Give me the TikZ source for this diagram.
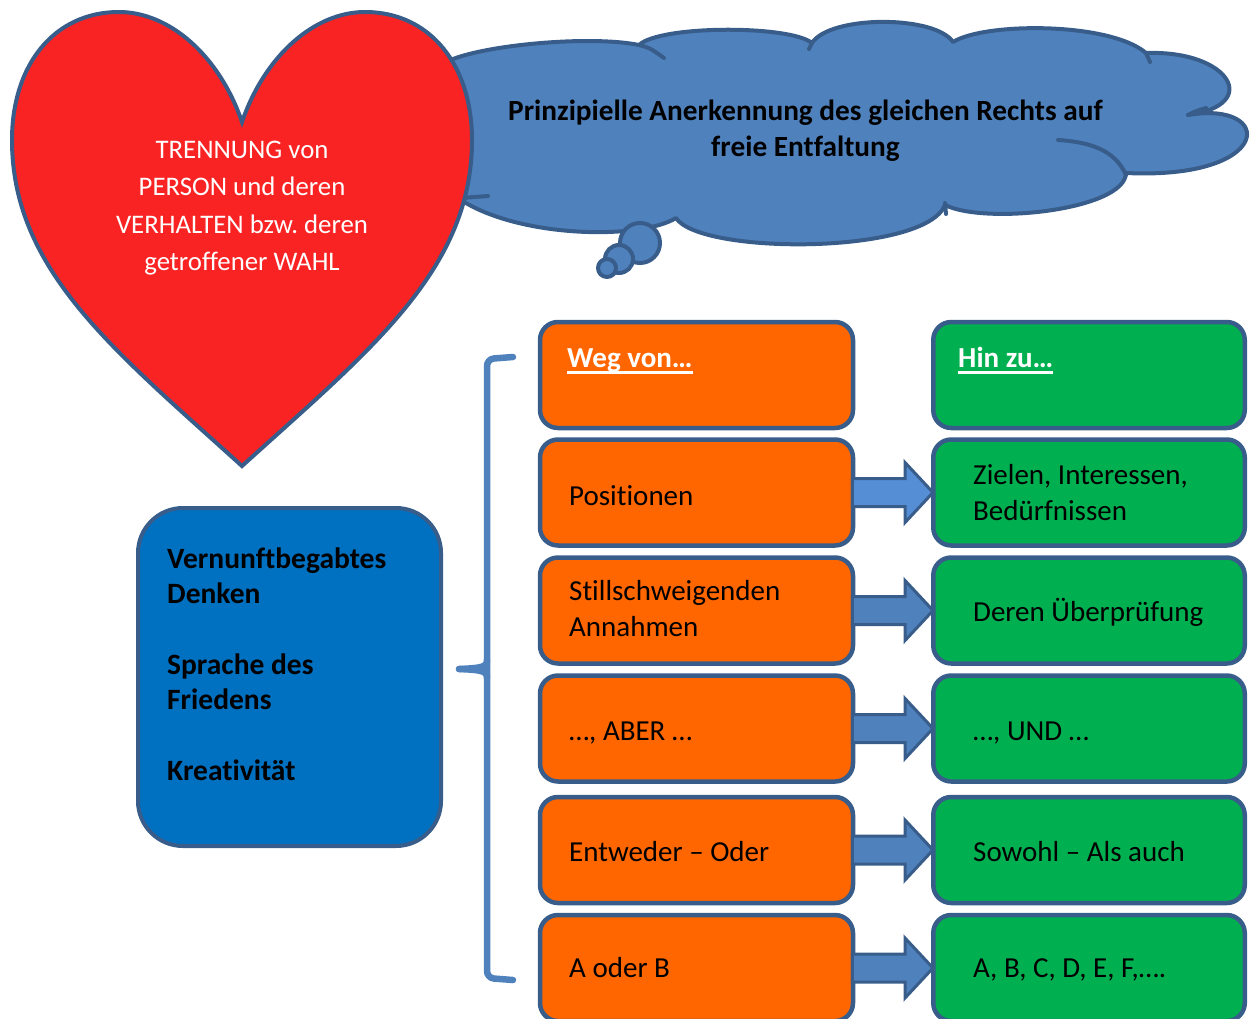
\documentclass[tikz,border=0pt]{standalone}
\usepackage{fontspec}
\setmainfont[Ligatures={NoCommon}]{Carlito}
\usetikzlibrary{calc}
\frenchspacing
\definecolor{edgeC}{HTML}{385D8A}
\definecolor{cloudC}{HTML}{4F81BD}
\definecolor{heartC}{HTML}{FA2323}
\definecolor{orangeC}{HTML}{FF6600}
\definecolor{greenC}{HTML}{00B050}
\definecolor{boxblueC}{HTML}{0070C0}
\definecolor{arrowA}{HTML}{558ED5}
\definecolor{arrowB}{HTML}{4F81BD}
\newcommand\myfs{\fontsize{29}{36}\selectfont}
\newcommand\myul[1]{\setbox0=\hbox{#1}\rlap{\rule[-6.5pt]{\wd0}{2.6pt}}\box0}
\newcommand\blockarrow[3]{%
  \draw[arr,fill=#3] ($(#1.east)+(-3,-14)$) -- ($(#2.west)+(-26,-14)$)
    -- ($(#2.west)+(-26,-30)$) -- ($(#2.west)+(2,0)$) -- ($(#2.west)+(-26,30)$)
    -- ($(#2.west)+(-26,14)$) -- ($(#1.east)+(-3,14)$) -- cycle;}
\tikzset{
  cloudst/.style={draw=edgeC, line width=4pt, fill=cloudC, line join=round},
  cloudline/.style={draw=edgeC, line width=4pt, line cap=round},
  heartst/.style={draw=edgeC, line width=4pt, fill=heartC, line join=miter},
  obox/.style={draw=edgeC, line width=4.5pt, fill=orangeC, rounded corners=18pt,
    minimum width=313pt, minimum height=106pt, inner sep=0pt},
  gbox/.style={draw=edgeC, line width=4.5pt, fill=greenC, rounded corners=18pt,
    minimum width=311.5pt, minimum height=106pt, inner sep=0pt},
  lbl/.style={anchor=west, align=left, inner sep=0pt, font=\myfs},
  hdr/.style={anchor=base west, inner sep=0pt, font=\myfs\bfseries, text=white},
  arr/.style={draw=edgeC, line width=3pt, line join=miter},
  bracest/.style={draw=cloudC, line width=6.5pt, line cap=round},
}
\begin{document}
\begin{tikzpicture}[x=1pt,y=-1pt]
\useasboundingbox (0,0) rectangle (1250,1018);
\clip (0,0) rectangle (1250,1018);

% cloud
\draw[cloudst] (446,62) .. controls (480,45) and (590,35) .. (639,45)
 .. controls (660,25) and (790,25) .. (812,43)
 .. controls (830,15) and (935,15) .. (953,42)
 .. controls (985,22) and (1110,22) .. (1146,53)
 .. controls (1230,50) and (1262,105) .. (1188,115)
 .. controls (1275,100) and (1275,180) .. (1126,173)
 .. controls (1125,210) and (985,225) .. (945,205)
 .. controls (925,255) and (700,255) .. (676,218)
 .. controls (640,240) and (520,238) .. (461,200)
 .. controls (400,195) and (395,70) .. (446,62) -- cycle;
\draw[cloudline] (639,45) .. controls (650,48) .. (664,58);
\draw[cloudline] (1188,115) .. controls (1196,111) .. (1206,108);
\draw[cloudline] (1126,175) .. controls (1115,150) and (1090,142) .. (1058,140);
\draw[cloudline] (945,203) -- (946,214);
\draw[cloudline] (461,198) -- (488,196);
\draw[cloudline] (1146,53) -- (1150,62);
\draw[cloudline] (812,43) -- (809,49);
\draw[cloudst] (640,243) circle[radius=20];
\draw[cloudst] (619,259) circle[radius=14];
\draw[cloudst] (607,268) circle[radius=9];
\node[font=\fontsize{29.3}{36}\selectfont\bfseries, align=center, inner sep=0pt] (cloudtext) at (805.5,131)
  {Prinzipielle Anerkennung des gleichen Rechts auf\\freie Entfaltung};

% heart
\draw[heartst] (242,122) .. controls (265,55) and (315,12) .. (365,12)
 .. controls (430,12) and (472,65) .. (472,140)
 .. controls (472,270) and (370,350) .. (242,466)
 .. controls (114,350) and (12,270) .. (12,140)
 .. controls (12,65) and (54,12) .. (119,12)
 .. controls (169,12) and (219,55) .. (242,122) -- cycle;
\node[font=\fontsize{26.8}{37.5}\selectfont, text=white, align=center, inner sep=0pt] (hearttext) at (242,208)
  {TRENNUNG von\\PERSON und deren\\VERHALTEN bzw. deren\\getroffener WAHL};

% blue box
\node[draw=edgeC, line width=4pt, fill=boxblueC, rounded corners=45pt,
  minimum width=303pt, minimum height=338pt] (bluebox) at (289.5,677) {};
\node[anchor=west, align=left, inner sep=0pt, font=\fontsize{29.5}{35.3}\selectfont\bfseries] (bluetext) at (167,664)
  {Vernunftbegabtes\\Denken\\~\\Sprache des\\Friedens\\~\\Kreativität};

% bracket
\draw[bracest, rounded corners=7pt] (513,357) -- (487,359) -- (487,978) -- (513,980);
\draw[bracest] (487,660) .. controls (487,667) and (482,668) .. (459,669);
\draw[bracest] (487,678) .. controls (487,671) and (482,670) .. (459,669);

% rows
\node[obox] (o1) at (696.5,375) {};
\node[obox] (o2) at (696.5,492.5) {};
\node[obox] (o3) at (696.5,610.5) {};
\node[obox] (o4) at (696.5,728.5) {};
\node[obox] (o5) at (696.5,850) {};
\node[obox] (o6) at (696.5,968) {};
\node[gbox] (g1) at (1089,375) {};
\node[gbox] (g2) at (1089,492.5) {};
\node[gbox] (g3) at (1089,610.5) {};
\node[gbox] (g4) at (1089,728.5) {};
\node[gbox] (g5) at (1089,850) {};
\node[gbox] (g6) at (1089,968) {};

\node[hdr] (t1) at (567,367) {\myul{Weg von…}};
\node[hdr] (u1) at (958,367) {\myul{Hin zu…}};
\node[lbl, anchor=base west] (t2) at (569,505) {Positionen};
\node[lbl] (u2) at (973,493) {Zielen, Interessen,\\Bedürfnissen};
\node[lbl] (t3) at (569,609) {Stillschweigenden\\Annahmen};
\node[lbl, anchor=base west] (u3) at (973,621) {Deren Überprüfung};
\node[lbl, anchor=base west] (t4) at (569,740) {…, ABER …};
\node[lbl, anchor=base west] (u4) at (973,740) {…, UND …};
\node[lbl, anchor=base west] (t5) at (569,861) {Entweder – Oder};
\node[lbl, anchor=base west] (u5) at (973,861) {Sowohl – Als auch};
\node[lbl, anchor=base west] (t6) at (569,977) {A oder B};
\node[lbl, anchor=base west] (u6) at (973,977) {A, B, C, D, E, F,….};

% block arrows
\blockarrow{o2}{g2}{arrowA}
\blockarrow{o3}{g3}{arrowB}
\blockarrow{o4}{g4}{arrowB}
\blockarrow{o5}{g5}{arrowB}
\blockarrow{o6}{g6}{arrowB}
\end{tikzpicture}
\end{document}
